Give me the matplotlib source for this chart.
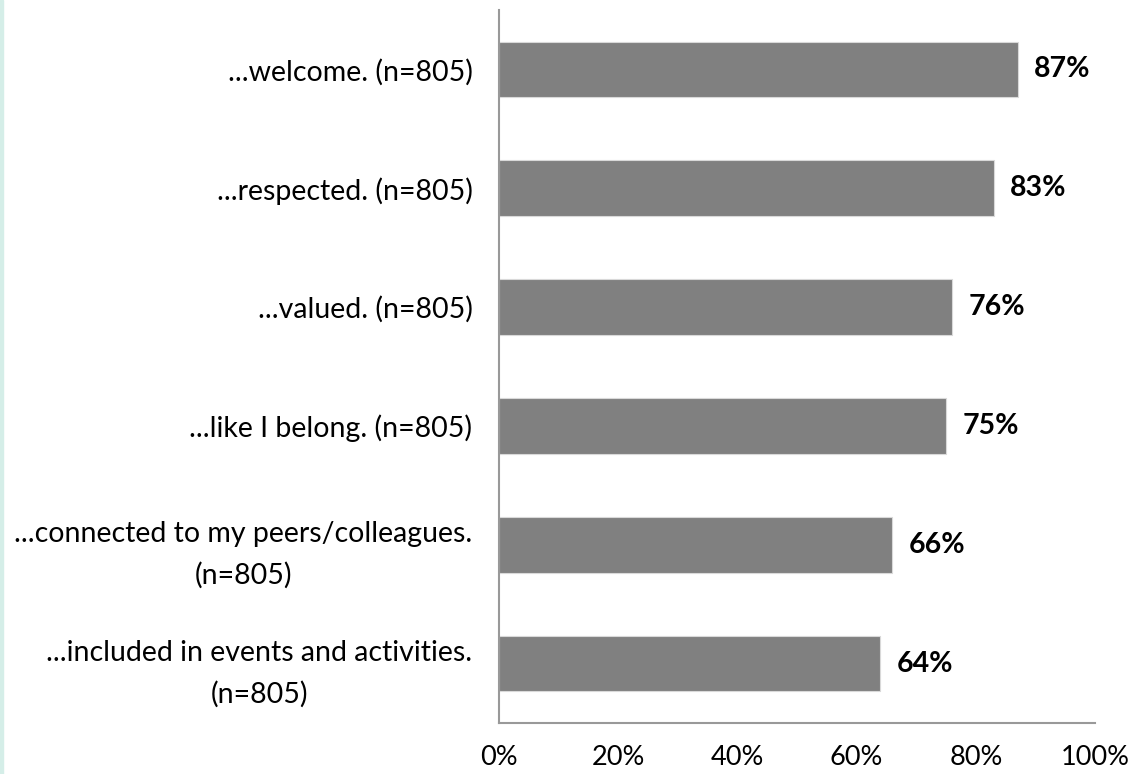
import matplotlib.pyplot as plt
from matplotlib.patches import Rectangle

labels = [
    '...welcome. (n=805)',
    '...respected. (n=805)',
    '...valued. (n=805)',
    '...like I belong. (n=805)',
    '...connected to my peers/colleagues.\n(n=805)',
    '...included in events and activities.\n(n=805)',
]
values = [87, 83, 76, 75, 66, 64]
xticks = [0, 20, 40, 60, 80, 100]

plt.rcParams['font.family'] = ['Lato', 'DejaVu Sans']

fig = plt.figure(figsize=(11.39, 7.74), dpi=100)
ax = fig.add_axes([0.438, 0.066, 0.5235, 0.921])

ypos = list(range(len(labels)))
ax.barh(ypos, values, height=0.47, color='#808080', edgecolor='#d9d9d9', linewidth=0.8)
for y, v in zip(ypos, values):
    ax.text(v + 2.7, y, f'{v}%', va='center', ha='left', fontsize=20.5,
            fontweight='bold', color='black')

ax.set_xlim(0, 100)
ax.set_ylim(len(labels) - 0.5, -0.5)
ax.set_yticks(ypos)
ax.set_yticklabels(labels, fontsize=20.5, ha='right', multialignment='center',
                   linespacing=1.7)
ax.set_xticks(xticks)
ax.set_xticklabels([f'{t}%' for t in xticks], fontsize=19.5)
ax.tick_params(axis='both', length=0)
ax.tick_params(axis='x', pad=16)
ax.tick_params(axis='y', pad=19)

for side in ['top', 'right']:
    ax.spines[side].set_visible(False)
for side in ['left', 'bottom']:
    ax.spines[side].set_color('#999999')
    ax.spines[side].set_linewidth(1.5)

# thin tinted strip along the left edge of the page
fig.patches.append(Rectangle((0, 0), 0.0022, 1, transform=fig.transFigure,
                             color='#d5eee8', zorder=0))

fig.savefig('out.png', dpi=100)
